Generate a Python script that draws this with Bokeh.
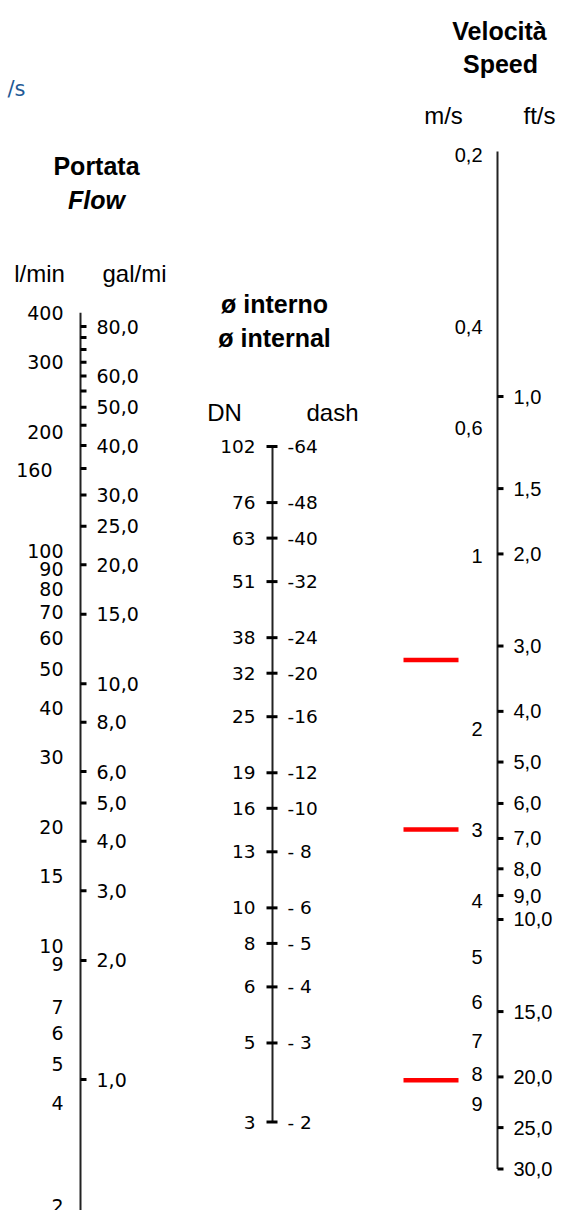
import math
from bokeh.plotting import figure
from bokeh.models import Range1d, LogScale
from bokeh.embed import file_html
from bokeh.resources import INLINE
from bokeh.core.properties import value

# ---------------- data ----------------
flow_lmin = [400, 300, 200, 160, 100, 90, 80, 70, 60, 50, 40, 30, 20, 15, 10, 9, 7, 6, 5, 4, 2]
flow_gal = [80, 60, 50, 40, 30, 25, 20, 15, 10, 8, 6, 5, 4, 3, 2, 1]
flow_gal_labels = ["80,0", "60,0", "50,0", "40,0", "30,0", "25,0", "20,0", "15,0",
                   "10,0", "8,0", "6,0", "5,0", "4,0", "3,0", "2,0", "1,0"]
flow_gal_minor = [75, 70, 65, 55, 45, 35]

pipe_dn = [102, 76, 63, 51, 38, 32, 25, 19, 16, 13, 10, 8, 6, 5, 3]
pipe_dash = [64, 48, 40, 32, 24, 20, 16, 12, 10, 8, 6, 5, 4, 3, 2]

speed_ms = [0.2, 0.4, 0.6, 1, 2, 3, 4, 5, 6, 7, 8, 9]
speed_ms_labels = ["0,2", "0,4", "0,6", "1", "2", "3", "4", "5", "6", "7", "8", "9"]
speed_fts = [1.0, 1.5, 2.0, 3.0, 4.0, 5.0, 6.0, 7.0, 8.0, 9.0, 10.0, 15.0, 20.0, 25.0, 30.0]
speed_fts_labels = ["1,0", "1,5", "2,0", "3,0", "4,0", "5,0", "6,0", "7,0", "8,0", "9,0",
                    "10,0", "15,0", "20,0", "25,0", "30,0"]
speed_marks_ms = [1.52, 3.0, 8.2]

# ---------------- layout ----------------
W, H = 556, 1210
TOP, BOTTOM = 0, H
# each scale: two (value, y-pixel) anchor points of a logarithmic axis
ANCHORS = {
    "lmin": (100, 550, 10, 945),
    "gal": (80, 326, 1, 1079),
    "dash": (64, 446, 2, 1121.5),
    "ms": (0.2, 154, 9, 1103),
    "fts": (1, 396, 30, 1168.5),
}


def page_to_value(name, y):
    va, ya, vb, yb = ANCHORS[name]
    k = (yb - ya) / (math.log10(vb) - math.log10(va))
    return 10 ** (math.log10(va) + (y - ya) / k)


def value_to_page(name, v):
    va, ya, vb, yb = ANCHORS[name]
    k = (yb - ya) / (math.log10(vb) - math.log10(va))
    return ya + k * (math.log10(v) - math.log10(va))


p = figure(width=W, height=H, x_range=Range1d(0, W), y_range=Range1d(BOTTOM, TOP),
           output_backend="svg", toolbar_location=None, min_border=0,
           x_axis_location=None, y_axis_location=None)
p.grid.visible = False
p.outline_line_color = None
p.background_fill_color = "white"
p.extra_y_ranges = {n: Range1d(page_to_value(n, BOTTOM), page_to_value(n, TOP)) for n in ANCHORS}
p.extra_y_scales = {n: LogScale() for n in ANCHORS}

INK = "#000000"
LINE = "#222222"
NUM_FONT = value("DejaVu Sans")
SANS = value("Liberation Sans")


def header(x, y, txt, size, style="bold", align="center", color="black", font=SANS):
    p.text(x=[x], y=[y], text=[txt], text_font=font, text_font_size=size,
           text_font_style=style, text_align=align, text_baseline="middle", text_color=color)


# ---- headers ----
header(25, 88, "/s", "21px", style="normal", align="right", color="#1f5a96", font=NUM_FONT)
header(96, 165, "Portata", "25px")
header(96, 199, "Flow", "25px", style="bold italic")
header(39, 273, "l/min", "24px", style="normal")
header(102, 273, "gal/mi", "24px", style="normal", align="left")
header(274, 303, "ø interno", "25px")
header(274, 337, "ø internal", "25px")
header(224, 412, "DN", "24px", style="normal")
header(332, 412, "dash", "24px", style="normal")
header(499, 30, "Velocità", "25px")
header(500, 63, "Speed", "25px")
header(443, 115, "m/s", "24px", style="normal")
header(555, 115, "ft/s", "24px", style="normal", align="right")

# ---- flow scale ----
p.segment(x0=[80], x1=[80], y0=[max(flow_lmin)], y1=[min(flow_lmin)],
          y_range_name="lmin", line_color=LINE, line_width=2)
p.segment(x0=80, x1=86, y0=flow_gal, y1=flow_gal, y_range_name="gal", line_color=INK, line_width=3)
p.segment(x0=80, x1=86, y0=flow_gal_minor, y1=flow_gal_minor, y_range_name="gal",
          line_color=INK, line_width=3)
p.text(x=96, y=flow_gal, text=flow_gal_labels, y_range_name="gal", text_font=NUM_FONT,
       text_font_size="19px", text_align="left", text_baseline="middle", text_color=INK)
lmin_x = [52 if v == 160 else 63 for v in flow_lmin]
# the lowest label sits on the bottom edge, partly cut as in the original sheet
lmin_floor = page_to_value("lmin", BOTTOM - 5)
lmin_y = [max(v, lmin_floor) for v in flow_lmin]
p.text(x=lmin_x, y=lmin_y, text=[str(v) for v in flow_lmin], y_range_name="lmin",
       text_font=NUM_FONT, text_font_size="19px", text_align="right", text_baseline="middle",
       text_color=INK)

# ---- pipe diameter scale ----
p.segment(x0=[272], x1=[272], y0=[max(pipe_dash)], y1=[min(pipe_dash)],
          y_range_name="dash", line_color=LINE, line_width=2)
p.segment(x0=266, x1=277, y0=pipe_dash, y1=pipe_dash, y_range_name="dash",
          line_color=INK, line_width=3)
p.text(x=255, y=pipe_dash, text=[str(v) for v in pipe_dn], y_range_name="dash",
       text_font=NUM_FONT, text_font_size="18.5px", text_align="right", text_baseline="middle",
       text_color=INK)
p.text(x=287, y=pipe_dash, text=["-%2d" % v for v in pipe_dash], y_range_name="dash",
       text_font=NUM_FONT, text_font_size="18.5px", text_align="left", text_baseline="middle",
       text_color=INK)

# ---- speed scale ----
top_fts = page_to_value("fts", value_to_page("ms", min(speed_ms)) - 3)
p.segment(x0=[497], x1=[497], y0=[top_fts], y1=[max(speed_fts)],
          y_range_name="fts", line_color=LINE, line_width=2)
p.segment(x0=497, x1=503, y0=speed_fts, y1=speed_fts, y_range_name="fts",
          line_color=INK, line_width=3)
p.text(x=513, y=speed_fts, text=speed_fts_labels, y_range_name="fts", text_font=SANS,
       text_font_size="20px", text_align="left", text_baseline="middle", text_color=INK)
p.text(x=482, y=speed_ms, text=speed_ms_labels, y_range_name="ms", text_font=SANS,
       text_font_size="20px", text_align="right", text_baseline="middle", text_color=INK)
p.segment(x0=403, x1=458, y0=speed_marks_ms, y1=speed_marks_ms, y_range_name="ms",
          line_color="#ff0000", line_width=4.5)

open("out.html", "w").write(file_html(p, INLINE))
